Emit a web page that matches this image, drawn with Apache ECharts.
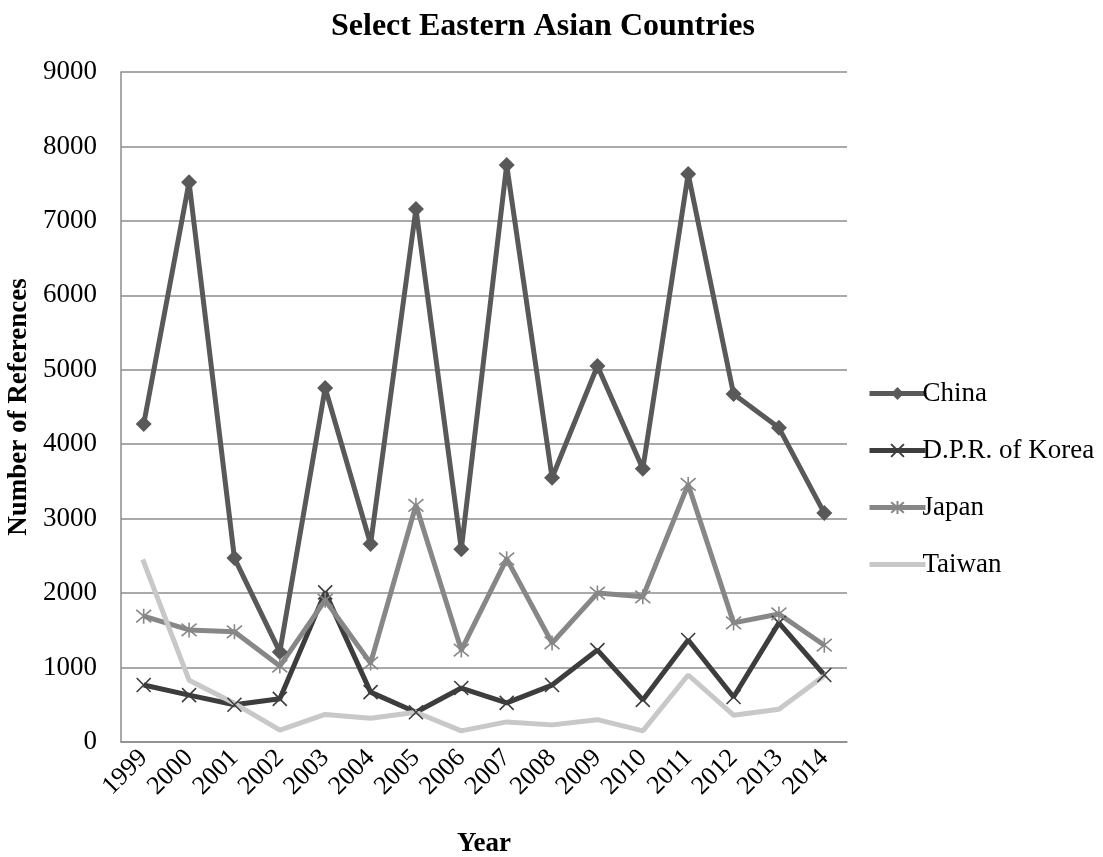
<!DOCTYPE html>
<html>
<head>
<meta charset="utf-8">
<script src="https://cdn.jsdelivr.net/npm/echarts@6/dist/echarts.min.js"></script>
<style>
html,body{margin:0;padding:0;background:#fff;}
#main{width:1103px;height:857px;}
</style>
</head>
<body>
<div id="main"></div>
<script>
var years = ['1999','2000','2001','2002','2003','2004','2005','2006','2007','2008','2009','2010','2011','2012','2013','2014'];
var china = [4270, 7520, 2470, 1210, 4755, 2660, 7160, 2590, 7750, 3550, 5050, 3670, 7630, 4675, 4220, 3075];
var korea = [765, 630, 500, 580, 2010, 670, 400, 725, 525, 765, 1235, 565, 1370, 605, 1600, 900];
var japan = [1690, 1505, 1480, 1020, 1905, 1060, 3180, 1235, 2460, 1330, 2000, 1950, 3460, 1600, 1720, 1300];
var taiwan = [2420, 830, 520, 160, 370, 320, 400, 150, 270, 230, 300, 150, 900, 360, 440, 890];
var yTicks = [0, 1000, 2000, 3000, 4000, 5000, 6000, 7000, 8000, 9000];

var FONT = '"Liberation Serif", "Times New Roman", serif';
var xPath = 'path://M0,0L10,10M10,0L0,10';
var starPath = 'path://M0,0L10,10M10,0L0,10M5,-1L5,11';
var barIcon = 'path://M0,0L56,0L56,5L0,5Z';

var chart = echarts.init(document.getElementById('main'), null, {renderer: 'canvas'});
chart.setOption({
  animation: false,
  backgroundColor: '#ffffff',
  textStyle: {fontFamily: FONT},
  title: {
    text: 'Select Eastern Asian Countries',
    left: 538, top: 6, textAlign: 'center',
    textStyle: {fontFamily: FONT, fontSize: 32, fontWeight: 'bold', color: '#000'}
  },
  legend: {
    orient: 'vertical',
    left: 862, top: 375,
    itemWidth: 56, itemHeight: 16, itemGap: 30,
    symbolKeepAspect: true,
    lineStyle: {width: 5},
    textStyle: {fontFamily: FONT, fontSize: 27, color: '#000', padding: [0,0,0,-8]},
    data: ['China', 'D.P.R. of Korea', 'Japan', {name: 'Taiwan', icon: barIcon}]
  },
  grid: {left: 121, right: 256, top: 72, bottom: 115, containLabel: false, outerBoundsMode: 'none'},
  xAxis: {
    type: 'category',
    data: years,
    boundaryGap: true,
    name: 'Year',
    nameLocation: 'middle',
    nameGap: 89,
    nameTextStyle: {fontFamily: FONT, fontSize: 27, fontWeight: 'bold', color: '#000'},
    axisLine: {lineStyle: {color: '#8c8c8c', width: 1.5}},
    axisTick: {show: false},
    axisLabel: {rotate: 45, margin: 12, fontFamily: FONT, fontSize: 26, color: '#000', interval: 0}
  },
  yAxis: {
    type: 'value',
    min: yTicks[0], max: yTicks[yTicks.length - 1], interval: 1000,
    name: 'Number of References',
    nameLocation: 'middle',
    nameGap: 75,
    nameTextStyle: {fontFamily: FONT, fontSize: 27, fontWeight: 'bold', color: '#000'},
    axisLine: {show: true, lineStyle: {color: '#8c8c8c', width: 1.5}},
    axisTick: {show: false},
    axisLabel: {margin: 24, fontFamily: FONT, fontSize: 27, color: '#000',
      formatter: function (v) { return String(v); }},
    splitLine: {lineStyle: {color: '#8c8c8c', width: 1.5}}
  },
  series: [
    {
      name: 'China', type: 'line', data: china,
      symbol: 'diamond', symbolSize: 16, showAllSymbol: true,
      lineStyle: {color: '#595959', width: 5},
      itemStyle: {color: '#595959'}
    },
    {
      name: 'D.P.R. of Korea', type: 'line', data: korea,
      symbol: xPath, symbolSize: 14, showAllSymbol: true,
      lineStyle: {color: '#3d3d3d', width: 5},
      itemStyle: {color: 'rgba(0,0,0,0)', borderColor: '#3d3d3d', borderWidth: 1.6}
    },
    {
      name: 'Japan', type: 'line', data: japan,
      symbol: starPath, symbolSize: 15, showAllSymbol: true,
      lineStyle: {color: '#878787', width: 5},
      itemStyle: {color: 'rgba(0,0,0,0)', borderColor: '#878787', borderWidth: 1.6}
    },
    {
      name: 'Taiwan', type: 'line', data: taiwan,
      symbol: 'none',
      lineStyle: {color: '#c8c8c8', width: 5, cap: 'square'},
      itemStyle: {color: '#c8c8c8'}
    }
  ]
});
</script>
</body>
</html>
